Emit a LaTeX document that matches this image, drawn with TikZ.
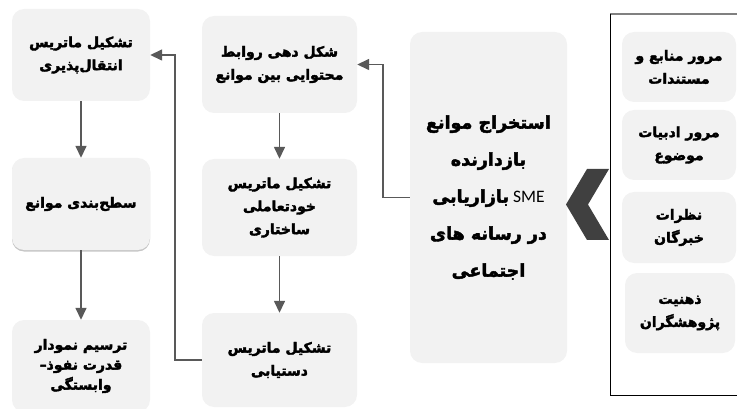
\documentclass[tikz,border=0pt]{standalone}
\usepackage{fontspec}
\setmainfont{Carlito}
\newfontfamily\arabicfont[Script=Arabic, BoldFeatures={FakeBold=2.6}]{DejaVu Sans}
\TeXXeTstate=1
\usetikzlibrary{arrows.meta,shadows}
\definecolor{boxgray}{HTML}{F2F2F2}
\definecolor{linegray}{HTML}{595959}
\definecolor{chevgray}{HTML}{404040}
\newcommand{\fa}[1]{{\arabicfont\bfseries\beginR #1\endR}}
\tikzset{
  box/.style={fill=boxgray, rounded corners=12pt, align=center, inner sep=0pt,
    font=\fontsize{14}{23}\selectfont},
  flow/.style={draw=linegray, line width=1.5pt, -{Triangle[length=12pt,width=11pt]}},
}

\begin{document}
\begin{tikzpicture}[x=1pt,y=-1pt]
\useasboundingbox (0,0) rectangle (737,409);

% left column
\node[box, minimum width=138pt, minimum height=92pt] (trans) at (81,55) {\fa{تشکیل ماتریس}\\\fa{انتقال‌پذیری}};
\node[box, minimum width=138pt, minimum height=92pt,
  drop shadow={shadow xshift=0pt, shadow yshift=-1.5pt, opacity=.45}] (level) at (81,204) {\fa{سطح‌بندی موانع}};
\node[box, minimum width=138pt, minimum height=92pt, font=\fontsize{14}{20}\selectfont] (plot) at (81,366) {\fa{ترسیم نمودار}\\\fa{قدرت نفوذ–}\\\fa{وابستگی}};

% middle column
\node[box, minimum width=155pt, minimum height=97pt] (shape) at (279.5,64.5) {\fa{شکل دهی روابط}\\\fa{محتوایی بین موانع}};
\node[box, minimum width=155pt, minimum height=97pt] (self) at (279.5,207.5) {\fa{تشکیل ماتریس}\\\fa{خودتعاملی}\\\fa{ساختاری}};
\node[box, minimum width=155pt, minimum height=94pt] (reach) at (279.5,360) {\fa{تشکیل ماتریس}\\\fa{دستیابی}};

% main box
\node[box, minimum width=157pt, minimum height=331pt, font=\fontsize{17.5}{37}\selectfont] (main) at (488.5,197.5)
  {\fa{استخراج موانع}\\\fa{بازدارنده}\\\fa{بازاریابی} SME\\\fa{در رسانه های}\\\fa{اجتماعی}};

% chevron
\fill[chevgray] (587,169) -- (609,169) -- (588,204.5) -- (609,240) -- (587,240) -- (566,204.5) -- cycle;

% sources panel
\draw[gray, line width=1.2pt] (610,14) -- (737,14);
\draw[black, line width=0.9pt] (610,14) -- (610,395) -- (737,395);
\node[box, minimum width=114pt, minimum height=70pt] (docs) at (679,67) {\fa{مرور منابع و}\\\fa{مستندات}};
\node[box, minimum width=114pt, minimum height=70pt] (lit) at (679,145) {\fa{مرور ادبیات}\\\fa{موضوع}};
\node[box, minimum width=114pt, minimum height=71pt] (expert) at (679,227.5) {\fa{نظرات}\\\fa{خبرگان}};
\node[box, minimum width=110pt, minimum height=80pt] (mind) at (680,313) {\fa{ذهنیت}\\\fa{پژوهشگران}};

% connectors
\draw[flow] (trans) -- (level);
\draw[flow] (level) -- (plot);
\draw[flow] (shape) -- (self);
\draw[flow] (self) -- (reach);
\draw[flow] (main.west) -- ++(-27,0) |- (shape.east);
\draw[flow] (reach.west) -- ++(-27,0) |- (trans.east);
\end{tikzpicture}
\end{document}
